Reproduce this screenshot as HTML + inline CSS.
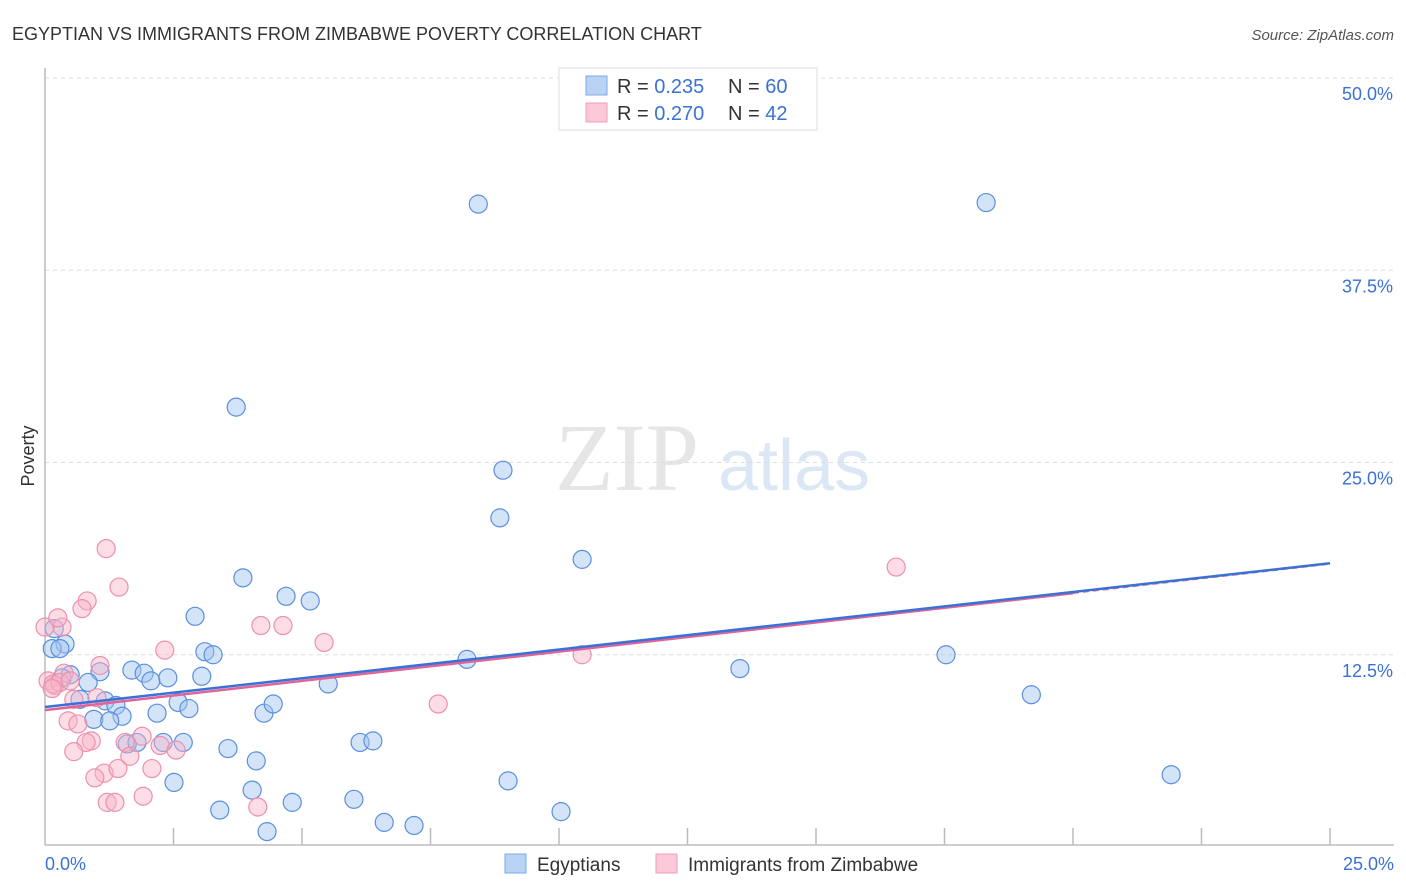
<!DOCTYPE html>
<html><head><meta charset="utf-8"><style>
body{margin:0;background:#fff;font-family:"Liberation Sans",sans-serif;}
svg{display:block}
</style></head><body>
<svg id="chart" width="1406" height="892">
<text x="12" y="40" font-size="18" fill="#333">EGYPTIAN VS IMMIGRANTS FROM ZIMBABWE POVERTY CORRELATION CHART</text>
<text x="1394" y="40" font-size="15" fill="#555" font-style="italic" text-anchor="end">Source: ZipAtlas.com</text>
<text x="34" y="456" font-size="18" fill="#333" transform="rotate(-90 34 456)" text-anchor="middle">Poverty</text>
<g><text x="555" y="490" font-size="96" fill="#e6e6e6" font-family="Liberation Serif,serif">ZIP</text><text x="718" y="490" font-size="72" fill="#dce7f6">atlas</text></g>
<g id="grid"></g><g id="axes"></g><g id="pts"></g><g id="lines"></g>
<g>
<rect x="559" y="68" width="258" height="62" fill="#fff" stroke="#ddd"/>
<rect x="586" y="76" width="21" height="19" fill="#b9d3f5" stroke="#7fa9e4"/>
<rect x="586" y="103" width="21" height="19" fill="#fbc9d7" stroke="#ef9db5"/>
<text x="617" y="93" font-size="20" fill="#333">R = <tspan fill="#3a72d4">0.235</tspan><tspan x="728">N = </tspan><tspan fill="#3a72d4">60</tspan></text>
<text x="617" y="120" font-size="20" fill="#333">R = <tspan fill="#3a72d4">0.270</tspan><tspan x="728">N = </tspan><tspan fill="#3a72d4"> 42</tspan></text>
</g>
<g>
<rect x="505" y="854" width="21" height="19" fill="#b9d3f5" stroke="#7fa9e4"/>
<text x="537" y="871" font-size="19" fill="#333">Egyptians</text>
<rect x="656" y="854" width="21" height="19" fill="#fbc9d7" stroke="#ef9db5"/>
<text x="688" y="871" font-size="19" fill="#333">Immigrants from Zimbabwe</text>
</g>
</svg>
<script>
const yTicks=[12.5,25,37.5,50];
const yTickLabels=["12.5%","25.0%","37.5%","50.0%"];
const xTickCount=10;
const blueX=[8.43,18.31,3.72,8.91,8.85,10.45,3.85,4.69,5.16,2.92,3.11,3.27,8.21,13.52,17.53,19.19,21.91,1.69,1.93,2.06,2.39,3.05,1.07,0.49,0.84,0.33,0.39,0.14,0.18,0.68,1.17,1.38,2.59,2.80,2.18,1.50,0.95,1.26,4.26,4.44,5.51,1.60,1.79,2.30,2.69,3.56,4.11,6.13,6.38,2.51,4.03,9.01,3.40,4.81,6.01,4.32,6.60,7.18,10.04,0.29];
const blueY=[41.8,41.9,28.6,24.5,21.4,18.7,17.5,16.3,16.0,15.0,12.7,12.5,12.2,11.6,12.5,9.9,4.7,11.5,11.3,10.8,11.0,11.1,11.4,11.2,10.7,11.0,13.2,12.9,14.2,9.6,9.5,9.2,9.4,9.0,8.7,8.5,8.3,8.2,8.7,9.3,10.6,6.7,6.8,6.8,6.8,6.4,5.6,6.8,6.9,4.2,3.7,4.3,2.4,2.9,3.1,1.0,1.6,1.4,2.3,12.9];
const pinkX=[1.19,1.44,0.82,0.72,16.56,4.20,4.63,5.43,2.33,10.45,1.07,0.37,0.06,0.19,0.16,0.29,0.49,7.65,0.56,1.01,0.45,0.64,0.90,0.80,1.56,1.89,2.24,2.55,0.56,1.65,1.15,0.97,1.42,2.08,1.91,1.21,1.36,4.14,0.33,0.0,0.25,0.14];
const pinkY=[19.4,16.9,16.0,15.5,18.2,14.4,14.4,13.3,12.8,12.5,11.8,11.3,10.8,10.5,10.6,10.7,10.8,9.3,9.6,9.7,8.2,8.0,6.9,6.8,6.8,7.2,6.6,6.3,6.2,5.9,4.8,4.5,5.1,5.1,3.3,2.9,2.9,2.6,14.3,14.3,14.9,10.3];
const trendBlue=[9.1,18.45];
const trendPink=[8.9,16.5];
const pinkEnd=20;

const X0=45,X1=1330,Y0=847,PXP=769/50;
const sx=v=>X0+(X1-X0)*v/25, sy=v=>Y0-v*PXP;
const NS="http://www.w3.org/2000/svg";
function mk(parent,tag,attrs){const e=document.createElementNS(NS,tag);for(const k in attrs)e.setAttribute(k,attrs[k]);document.getElementById(parent).appendChild(e);return e;}
yTicks.forEach((t,i)=>{
 const l=mk('grid','line',{x1:X0,x2:1394,y1:sy(t),y2:sy(t),stroke:'#ddd','stroke-dasharray':'4,4'});
 
 
 const tx=mk('grid','text',{x:1393,y:sy(t)+22,'font-size':18,fill:'#3a72d4','text-anchor':'end'});
 tx.textContent=yTickLabels[i];
 
 
});
mk('axes','line',{x1:X0,x2:X0,y1:68,y2:845,stroke:'#bbb','stroke-width':1.5});
mk('axes','line',{x1:X0,x2:1394,y1:845,y2:845,stroke:'#bbb','stroke-width':1.5});
for(let i=1;i<=xTickCount;i++){const x=X0+(X1-X0)*i/xTickCount;
 const l=mk('axes','line',{x1:x,x2:x,y1:828,y2:845,stroke:'#bbb','stroke-width':1.5});
 
 }
const xl=mk('axes','text',{x:45,y:870,'font-size':18,fill:'#3a72d4'});xl.textContent='0.0%';


const xr=mk('axes','text',{x:1394,y:870,'font-size':18,fill:'#3a72d4','text-anchor':'end'});xr.textContent='25.0%';


blueX.forEach((v,i)=>{const c=mk('pts','circle',{cx:sx(v),cy:sy(blueY[i]),r:9,fill:'rgba(160,195,240,0.45)',stroke:'#5b8fdc','stroke-width':1.2});
 
 });
pinkX.forEach((v,i)=>{const c=mk('pts','circle',{cx:sx(v),cy:sy(pinkY[i]),r:9,fill:'rgba(248,180,200,0.45)',stroke:'#ec90ad','stroke-width':1.2});
 
 });
const pe=trendPink[0]+(trendPink[1]-trendPink[0]);
const ps=(trendPink[1]-trendPink[0])/pinkEnd;
const pl=mk('lines','line',{x1:sx(0),y1:sy(trendPink[0]),x2:sx(pinkEnd),y2:sy(trendPink[1]),stroke:'#e0649a','stroke-width':2.5});


const pd=mk('lines','line',{x1:sx(pinkEnd),y1:sy(trendPink[1]),x2:sx(25),y2:sy(trendPink[0]+ps*25),stroke:'#e0649a','stroke-width':1.5,'stroke-dasharray':'6,4'});


const bl=mk('lines','line',{x1:sx(0),y1:sy(trendBlue[0]),x2:sx(25),y2:sy(trendBlue[1]),stroke:'#3a72d4','stroke-width':2.5});


</script>
</body></html>
